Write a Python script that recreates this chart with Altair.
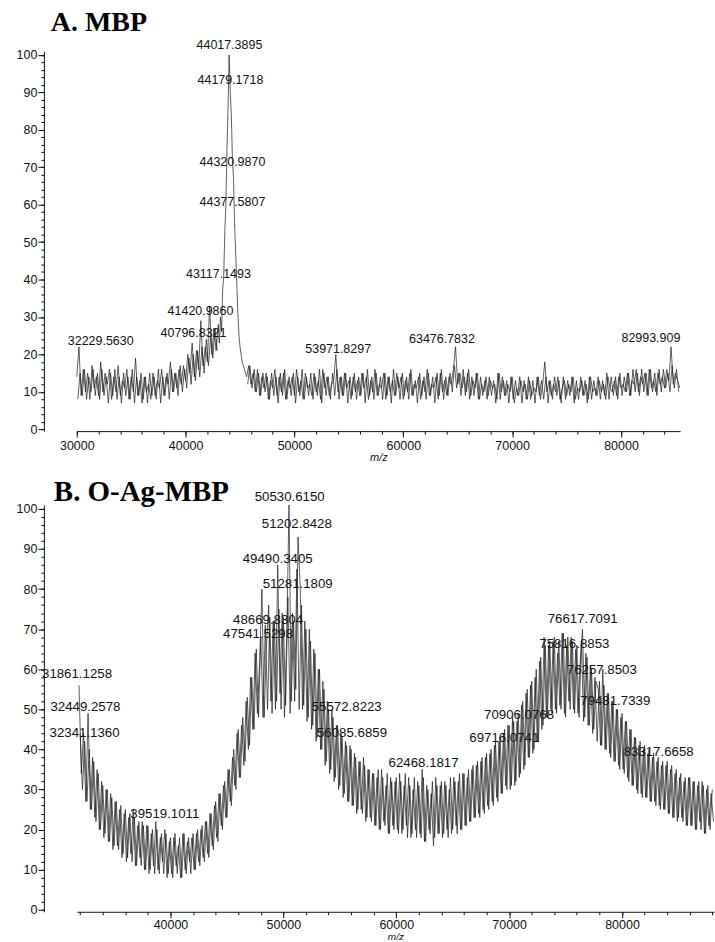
import altair as alt
import pandas as pd

FONT = "Liberation Sans"
SERIF = "Liberation Serif"

# ---------------- Panel A : MBP ----------------
A_TITLE = "A. MBP"
A_STEP = 200
# trace sampled at 30000, 30200, ... 43000
A_LEFT_START = 30000
A_left = [14, 22, 9, 16, 10, 15, 8, 17, 11, 14,
          9, 18, 10, 15, 12, 16, 8, 14, 10, 17,
          9, 13, 11, 16, 8, 14, 10, 19, 9, 13,
          7, 14, 10, 12, 8, 15, 9, 13, 11, 16,
          9, 14, 12, 18, 10, 15, 11, 16, 12, 17,
          13, 20, 15, 23, 14, 21, 16, 29, 17, 22,
          18, 33, 20, 27, 21, 28]
# interleaved readings at 30100, 30300, ... 42900
A_LEFT_MID_START = 30100
A_left_mid = [8, 15, 9, 16, 8, 14, 10, 16, 9, 15,
              8, 16, 9, 14, 7, 15, 9, 16, 8, 14,
              7, 15, 9, 14, 8, 16, 7, 14, 9, 15,
              8, 14, 7, 15, 9, 14, 8, 16, 7, 14,
              9, 15, 8, 16, 10, 15, 9, 17, 10, 16,
              11, 19, 12, 20, 13, 21, 14, 22, 15, 24,
              17, 25, 19, 27, 21]
# main peak
A_peak_mz = [43100, 43200, 43300, 43400, 43500, 43600, 43700, 43800, 43900, 44000,
             44100, 44200, 44300, 44400, 44500, 44600, 44700, 44800, 44900, 45000,
             45100, 45200, 45300, 45400, 45500]
A_peak = [23, 30, 26, 37, 41, 53, 60, 75, 86, 100,
          90, 84, 72, 67, 55, 47, 39, 31, 25, 22,
          20, 18, 17, 16, 15]
# trace sampled at 45600, 45800, ... 85400
A_RIGHT_START = 45600
A_right = [14, 17, 12, 15, 10, 16, 9, 14, 11, 15,
           8, 13, 11, 16, 9, 14, 10, 15, 8, 13,
           11, 14, 9, 16, 10, 13, 8, 15, 11, 12,
           9, 15, 10, 13, 8, 16, 11, 14, 9, 12,
           13, 20, 10, 14, 9, 15, 11, 13, 8, 14,
           10, 13, 9, 15, 11, 14, 8, 13, 10, 16,
           9, 12, 11, 15, 8, 14, 10, 13, 9, 15,
           11, 14, 8, 13, 10, 15, 9, 12, 11, 14,
           8, 13, 10, 16, 9, 12, 11, 14, 8, 15,
           10, 13, 9, 14, 12, 16, 22, 12, 15, 11,
           14, 10, 16, 9, 13, 11, 15, 8, 12, 10,
           14, 9, 13, 11, 12, 8, 15, 10, 13, 9,
           12, 10, 14, 7, 11, 9, 13, 10, 12, 8,
           13, 9, 11, 10, 14, 8, 12, 18, 10, 13,
           9, 12, 10, 14, 8, 11, 13, 9, 12, 10,
           14, 8, 11, 10, 13, 9, 12, 8, 14, 10,
           11, 9, 13, 10, 12, 8, 14, 11, 10, 13,
           9, 14, 11, 12, 10, 15, 9, 13, 12, 16,
           10, 14, 12, 15, 9, 16, 11, 13, 10, 15,
           12, 14, 11, 16, 13, 22, 12, 15, 13, 11]
# interleaved readings at 45700, 45900, ... 85300
A_RIGHT_MID_START = 45700
A_right_mid = [12, 17, 11, 16, 10, 15, 9, 15, 10, 14,
               8, 15, 9, 14, 7, 15, 9, 16, 8, 14,
               9, 15, 7, 14, 9, 16, 8, 14, 9, 15,
               8, 14, 9, 16, 7, 15, 9, 14, 8, 15,
               9, 16, 8, 14, 9, 15, 7, 14, 9, 15,
               8, 14, 9, 15, 7, 16, 9, 14, 8, 15,
               9, 14, 8, 15, 9, 14, 7, 16, 9, 14,
               8, 15, 9, 14, 8, 16, 9, 13, 7, 15,
               9, 14, 8, 15, 9, 14, 7, 15, 9, 16,
               8, 14, 9, 15, 10, 17, 11, 15, 9, 16,
               9, 15, 8, 14, 9, 15, 8, 14, 9, 13,
               8, 14, 9, 13, 7, 15, 8, 14, 9, 13,
               7, 14, 8, 13, 9, 14, 7, 13, 8, 14,
               8, 13, 7, 14, 9, 13, 8, 14, 7, 13,
               8, 14, 9, 13, 7, 14, 8, 13, 9, 14,
               7, 13, 8, 14, 9, 13, 7, 14, 8, 13,
               9, 14, 8, 13, 9, 15, 8, 14, 9, 14,
               8, 15, 9, 14, 10, 15, 9, 16, 10, 15,
               9, 16, 10, 15, 9, 16, 10, 15, 9, 16,
               10, 16, 11, 15, 10, 17, 11, 16, 10]

A_lab_text = ["44017.3895", "44179.1718", "44320.9870", "44377.5807", "43117.1493",
              "41420.9860", "40796.8321", "32229.5630", "53971.8297", "63476.7832",
              "82993.909"]
A_lab_mz = [44024, 44115, 44299, 44299, 43015, 41366, 40724, 32200, 54015, 63547, 82750]
A_lab_int = [102.7, 93.3, 71.5, 60.8, 41.6, 31.7, 25.6, 23.7, 21.3, 24.0, 24.3]

# ---------------- Panel B : O-Ag-MBP ----------------
B_TITLE = "B. O-Ag-MBP"
B_STEP = 200
B_START = 31900          # 31900, 32100, ... 88100
B_int = [56, 34, 44, 27, 49, 25, 38, 23, 35, 20,
         32, 18, 30, 17, 29, 15, 27, 16, 25, 13,
         24, 12, 23, 14, 25, 11, 21, 13, 22, 10,
         21, 9, 19, 11, 22, 10, 18, 12, 20, 8,
         17, 9, 18, 11, 16, 8, 19, 10, 17, 12,
         18, 10, 19, 12, 20, 13, 22, 14, 24, 16,
         26, 18, 29, 21, 31, 23, 35, 27, 38, 31,
         44, 33, 46, 36, 52, 40, 58, 45, 64, 49,
         62, 80, 48, 66, 76, 52, 72, 50, 86, 54,
         74, 48, 68, 101, 52, 72, 55, 93, 80, 50,
         72, 47, 70, 45, 65, 42, 60, 40, 57, 36,
         52, 34, 50, 32, 46, 30, 44, 28, 42, 27,
         41, 26, 39, 24, 37, 25, 38, 22, 35, 23,
         34, 21, 33, 20, 35, 22, 31, 19, 33, 21,
         32, 20, 34, 19, 31, 21, 33, 18, 30, 20,
         32, 19, 35, 17, 31, 20, 29, 16, 33, 19,
         31, 18, 32, 20, 30, 19, 33, 21, 32, 20,
         34, 21, 33, 22, 35, 23, 36, 24, 37, 25,
         38, 26, 39, 27, 41, 28, 42, 29, 44, 31,
         46, 30, 48, 31, 47, 33, 51, 35, 54, 38,
         56, 39, 58, 42, 62, 45, 68, 48, 66, 50,
         67, 50, 64, 51, 69, 49, 66, 52, 68, 50,
         65, 49, 62, 70, 48, 63, 46, 60, 45, 57,
         55, 41, 60, 40, 54, 39, 52, 37, 50, 36,
         48, 35, 47, 33, 45, 31, 43, 30, 41, 29,
         40, 28, 39, 27, 38, 27, 37, 26, 36, 25,
         36, 24, 35, 23, 34, 22, 33, 23, 32, 21,
         33, 21, 32, 20, 31, 22, 32, 19, 30, 21,
         29, 22]
B_MID_START = 32000      # 32000, 32200, ... 88000
B_mid = [44, 30, 42, 27, 40, 25, 37, 22, 34, 20,
         31, 19, 30, 17, 28, 16, 27, 15, 26, 14,
         25, 13, 24, 12, 23, 11, 22, 11, 21, 10,
         21, 10, 20, 9, 20, 9, 19, 9, 19, 9,
         18, 8, 19, 9, 18, 8, 19, 9, 18, 9,
         19, 10, 20, 11, 21, 12, 22, 13, 24, 15,
         27, 17, 29, 20, 32, 23, 35, 26, 40, 30,
         45, 33, 48, 37, 53, 41, 58, 45, 65, 48,
         68, 48, 71, 50, 73, 49, 72, 52, 75, 50,
         73, 51, 78, 49, 74, 52, 85, 50, 76, 51,
         70, 48, 67, 46, 64, 43, 60, 40, 55, 37,
         50, 35, 48, 33, 46, 31, 43, 29, 41, 27,
         40, 26, 38, 25, 37, 24, 36, 23, 35, 22,
         34, 21, 35, 20, 33, 21, 34, 19, 32, 20,
         33, 19, 32, 20, 34, 18, 31, 19, 33, 18,
         31, 18, 33, 17, 30, 19, 32, 18, 31, 19,
         32, 19, 31, 18, 33, 20, 32, 19, 34, 20,
         34, 21, 35, 22, 36, 23, 37, 23, 38, 24,
         39, 25, 40, 26, 42, 27, 43, 29, 45, 30,
         46, 31, 47, 32, 49, 34, 52, 36, 55, 38,
         57, 40, 60, 42, 63, 46, 66, 48, 67, 49,
         68, 49, 67, 50, 69, 48, 68, 50, 67, 49,
         66, 48, 67, 47, 64, 46, 61, 44, 58, 42,
         57, 41, 56, 40, 54, 38, 52, 37, 50, 35,
         49, 34, 47, 32, 45, 31, 43, 29, 42, 28,
         41, 28, 40, 27, 39, 26, 38, 25, 37, 25,
         37, 24, 36, 23, 35, 23, 34, 22, 33, 21,
         33, 21, 32, 20, 32, 20, 31, 19, 31, 20,
         30]

B_lab_text = ["50530.6150", "51202.8428", "49490.3405", "51281.1809", "48669.8304",
              "47541.5298", "55572.8223", "56085.6859", "62468.1817", "70906.0768",
              "69716.0741", "76617.7091", "75816.8853", "76257.8503", "79481.7339",
              "83317.6658", "31861.1258", "32449.2578", "32341.1360", "39519.1011"]
B_lab_mz = [50560, 51196, 49500, 51267, 48644, 47760, 55614, 56081, 62424, 70878,
            69571, 76514, 75781, 78210, 79403, 83246, 31720, 32469, 32389, 39500]
B_lab_int = [103, 96.3, 87.6, 81.3, 72.4, 68.7, 50.5, 44, 36.6, 48.5,
             42.9, 72.6, 66.2, 59.7, 52.2, 39.4, 58.9, 50.6, 44.2, 23.8]


# ---------------- build tables ----------------
def grid(start, vals, step):
    return [start + i * step for i in range(len(vals))]


dfA = pd.concat([
    pd.DataFrame({"mz": grid(A_LEFT_START, A_left, A_STEP) + A_peak_mz +
                  grid(A_RIGHT_START, A_right, A_STEP),
                  "int": A_left + A_peak + A_right, "trace": "a"}),
    pd.DataFrame({"mz": grid(A_LEFT_MID_START, A_left_mid, A_STEP),
                  "int": A_left_mid, "trace": "b"}),
    pd.DataFrame({"mz": grid(A_RIGHT_MID_START, A_right_mid, A_STEP),
                  "int": A_right_mid, "trace": "c"}),
], ignore_index=True)
labA = pd.DataFrame({"mz": A_lab_mz, "int": A_lab_int, "label": A_lab_text})

dfB = pd.concat([
    pd.DataFrame({"mz": grid(B_START, B_int, B_STEP), "int": B_int, "trace": "a"}),
    pd.DataFrame({"mz": grid(B_MID_START, B_mid, B_STEP), "int": B_mid, "trace": "b"}),
], ignore_index=True)
labB = pd.DataFrame({"mz": B_lab_mz, "int": B_lab_int, "label": B_lab_text})

YDOM = [-0.5, 101]
Y_OFFSET = 33


def panel(df, lab, title, xdom, width, height, tick_fs, lab_fs, title_fs,
          title_dx, title_dy, label_pad, xtitle_fs, anchor=False):
    xs = alt.Scale(domain=xdom, nice=False, zero=False)
    ys = alt.Scale(domain=YDOM, nice=False, zero=False)
    minor_x = [v for v in range(0, 100001, 2000) if xdom[0] <= v <= xdom[1]]
    major_x = [v for v in minor_x if v % 10000 == 0]

    x_axis = alt.Axis(values=minor_x, format="d", orient="bottom",
                      labelExpr="datum.value % 10000 === 0 ? datum.label : ''",
                      tickSize=3, labelPadding=label_pad, labelFontSize=tick_fs,
                      labelOverlap=False, labelFlush=False,
                      title="m/z", titleFontStyle="italic", titleFontWeight="normal",
                      titleFontSize=xtitle_fs, titlePadding=0)
    y_axis = alt.Axis(values=list(range(0, 101, 2)), orient="left",
                      labelExpr="datum.value % 10 === 0 ? datum.label : ''",
                      tickSize=3, labelPadding=4, labelFontSize=tick_fs,
                      labelOverlap=False, labelFlush=False, offset=Y_OFFSET, title=None)

    line = alt.Chart(df).mark_line(color="#1a1a1a", strokeWidth=0.7).encode(
        x=alt.X("mz:Q", scale=xs, axis=x_axis),
        y=alt.Y("int:Q", scale=ys, axis=y_axis),
        detail="trace:N",
    )
    major = alt.Chart(lab).mark_point(opacity=0).encode(
        x=alt.X("mz:Q", scale=xs,
                axis=alt.Axis(values=major_x, labels=False, domain=False, tickSize=6,
                              orient="bottom", title=None)),
        y=alt.Y("int:Q", scale=ys,
                axis=alt.Axis(values=list(range(0, 101, 10)), labels=False, domain=False,
                              tickSize=6, orient="left", offset=Y_OFFSET, title=None)),
    )
    text = alt.Chart(lab).mark_text(font=FONT, fontSize=lab_fs, color="#111",
                                    baseline="middle", align="center").encode(
        x=alt.X("mz:Q", scale=xs, axis=None),
        y=alt.Y("int:Q", scale=ys, axis=None),
        text="label:N",
    )
    ttl = alt.Chart(pd.DataFrame({"t": [title]})).mark_text(
        font=SERIF, fontWeight="bold", fontSize=title_fs, align="left",
        baseline="alphabetic", color="#000").encode(
        x=alt.value(title_dx), y=alt.value(title_dy), text="t:N")
    layers = [text, line, major, ttl]
    if anchor:
        pt = alt.Chart(pd.DataFrame({"a": [0]})).mark_point(
            filled=True, size=1, color="white", opacity=1).encode(
            x=alt.value(-76), y=alt.value(-49))
        layers.append(pt)
    return (alt.layer(*layers)
            .resolve_axis(x="independent", y="independent")
            .properties(width=width, height=height))


chartA = panel(dfA, labA, A_TITLE, [30000, 85430], 605, 381, 12.5, 12.5, 28, -26, -20,
               5, 11, anchor=True)
chartB = panel(dfB, labB, B_TITLE, [31700, 88150], 639, 408, 12.5, 13.3, 29, -23, -4,
               4, 10)

chart = (alt.vconcat(chartA, chartB, spacing=74, bounds="flush")
         .properties(padding=0)
         .configure_view(stroke=None)
         .configure_axis(labelFont=FONT, titleFont=FONT, labelColor="#111",
                         titleColor="#111", domainColor="#111", tickColor="#111",
                         domainWidth=1, tickWidth=1, grid=False))

chart.save("out.html", embed_options={"renderer": "svg", "actions": False})
